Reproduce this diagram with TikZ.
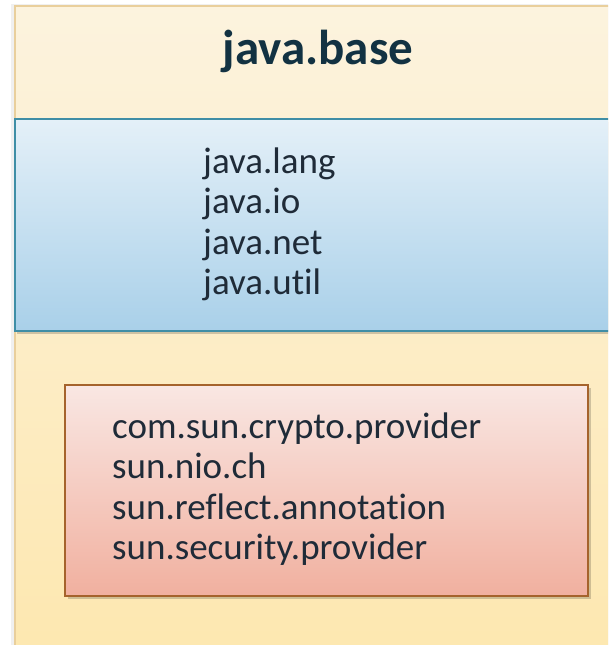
\documentclass[tikz,border=0pt]{standalone}
\usepackage{fontspec}
\setmainfont[Ligatures=NoCommon]{Carlito}
\definecolor{ybTop}{HTML}{FCF3DE}
\definecolor{ybBot}{HTML}{FDE7AE}
\definecolor{ybEdge}{HTML}{E9CF9C}
\definecolor{blTop}{HTML}{E4F0F8}
\definecolor{blBot}{HTML}{A9D0E9}
\definecolor{blEdge}{HTML}{3F8EA6}
\definecolor{rdTop}{HTML}{F9E7E3}
\definecolor{rdBot}{HTML}{F1B09F}
\definecolor{rdEdge}{HTML}{A5632C}
\definecolor{ink}{HTML}{1F2B38}
\definecolor{titleInk}{HTML}{123242}
\tikzset{
  pkg/.style={anchor=base west, inner sep=0pt, text=ink,
    font=\fontsize{37}{40}\selectfont},
  boxshadow/.style={fill=black, opacity=0.18}
}
\begin{document}
\begin{tikzpicture}[x=1pt,y=-1pt]
\useasboundingbox (0,0) rectangle (608,645);
\clip (0,0) rectangle (608,645);
\fill[white] (0,0) rectangle (608,645);

% module frame
\fill[black, opacity=0.06] (11,4) rectangle (640,680);
\shade[top color=ybTop, bottom color=ybBot] (15,6) rectangle (640,680);
\draw[ybEdge, line width=2pt] (640,6) -- (15,6) -- (15,680);

\node[anchor=base, inner sep=0pt, text=titleInk,
  font=\fontsize{49}{52}\bfseries] (title) at (318,64) {java.base};

% exported packages
\fill[boxshadow] (17,122) rectangle (640,334);
\shade[top color=blTop, bottom color=blBot] (15,119) rectangle (640,331);
\draw[blEdge, line width=2pt] (640,119) -- (15,119) -- (15,331) -- (640,331);

\node[pkg] (lang) at (203,173) {java.lang};
\node[pkg] (io)   at (203,213.5) {java.io};
\node[pkg] (net)  at (203,254) {java.net};
\node[pkg] (util) at (203,294.5) {java.util};

% internal packages
\fill[boxshadow] (68,388) rectangle (591,599);
\shade[top color=rdTop, bottom color=rdBot] (65,385) rectangle (588,596);
\draw[rdEdge, line width=2pt] (65,385) rectangle (588,596);

\node[pkg] (crypto) at (112,438) {com.sun.crypto.provider};
\node[pkg] (nio)    at (112,478.5) {sun.nio.ch};
\node[pkg] (refl)   at (112,519) {sun.reflect.annotation};
\node[pkg] (secu)   at (112,559.5) {sun.security.provider};
\end{tikzpicture}
\end{document}
